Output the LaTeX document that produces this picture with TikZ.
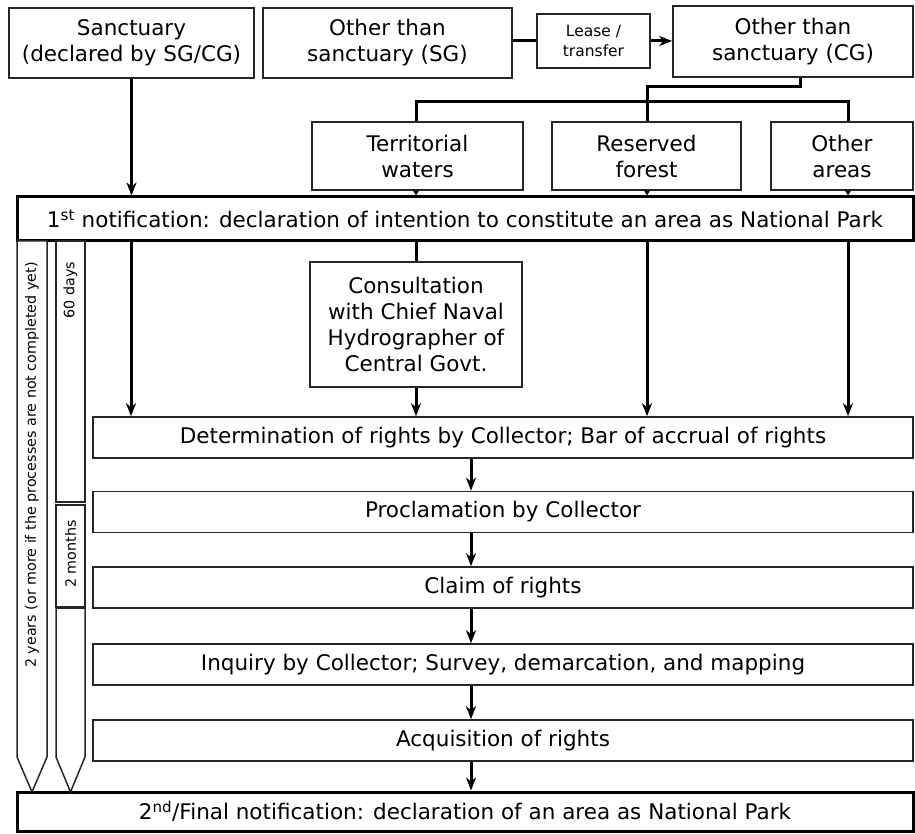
\documentclass[tikz,border=0pt]{standalone}
\usepackage{fontspec}
\setmainfont{DejaVu Sans}
\usetikzlibrary{arrows.meta}
\tikzset{
  box/.style={draw=black!85, line width=1.6pt, fill=white, align=center, inner sep=0pt,
    font=\fontsize{21.5}{26}\selectfont},
  bigbox/.style={box, draw=black, line width=3pt},
  stepbox/.style={box, minimum width=820pt, minimum height=41pt},
  conn/.style={line width=3pt, black},
  arr/.style={conn, -{Stealth[length=13pt,width=10pt,inset=4pt]}},
  tinyarr/.style={conn, -{Stealth[length=6pt,width=7pt,inset=2pt]}},
  side/.style={draw=black!85, line width=1.5pt, fill=white},
  sidetxt/.style={font=\fontsize{14.3}{17}\selectfont, rotate=90, inner sep=0pt}
}
\begin{document}
\begin{tikzpicture}[x=1pt, y=-1pt]
\useasboundingbox (0,0) rectangle (915,834);

% top row
\node[box, minimum width=245pt, minimum height=70pt] (sanc) at (131.5,43) {Sanctuary\\(declared by SG/CG)};
\node[box, minimum width=249pt, minimum height=70pt] (sg) at (387.5,43) {Other than\\sanctuary (SG)};
\node[box, minimum width=113pt, minimum height=54pt, font=\fontsize{15.5}{20}\selectfont] (lease) at (593.5,41) {Lease /\\transfer};
\node[box, minimum width=240pt, minimum height=71pt] (cg) at (793,41.5) {Other than\\sanctuary (CG)};

% categories under central government
\node[box, minimum width=211pt, minimum height=68pt] (terr) at (417.5,156) {Territorial\\waters};
\node[box, minimum width=189pt, minimum height=68pt] (resv) at (646.5,156) {Reserved\\forest};
\node[box, minimum width=142pt, minimum height=68pt] (oth) at (842,156) {Other\\areas};

% first notification
\node[bigbox, minimum width=896pt, minimum height=44pt] (first) at (465,219)
  {1\textsuperscript{st} notification: declaration of intention to constitute an area as National Park};

% consultation
\node[box, minimum width=212pt, minimum height=125pt] (consult) at (416,324.5)
  {Consultation\\with Chief Naval\\Hydrographer of\\Central Govt.};

% procedure steps
\node[stepbox] (det) at (503,437.5) {Determination of rights by Collector; Bar of accrual of rights};
\node[stepbox] (procl) at (503,512) {Proclamation by Collector};
\node[stepbox] (claim) at (503,587.5) {Claim of rights};
\node[stepbox] (inq) at (503,664.5) {Inquiry by Collector; Survey, demarcation, and mapping};
\node[stepbox] (acq) at (503,740.5) {Acquisition of rights};

% final notification
\node[bigbox, minimum width=896pt, minimum height=39pt] (final) at (465,811.5)
  {2\textsuperscript{nd}/Final notification: declaration of an area as National Park};

% time spans on the left
\draw[side] (17,241) -- (47,241) -- (47,757) -- (32,792) -- (17,757) -- cycle;
\node[sidetxt] (tyears) at (32,465) {2 years (or more if the processes are not completed yet)};
\node[side, minimum width=29pt, minimum height=261pt, inner sep=0pt] (sixty) at (70.5,371.5) {};
\node[sidetxt] (tsixty) at (70.5,290) {60 days};
\node[side, minimum width=29pt, minimum height=102pt, inner sep=0pt] (twom) at (70.5,556) {};
\node[sidetxt] (ttwom) at (70.5,554) {2 months};
\draw[side] (56,608) -- (85,608) -- (85,757) -- (70.5,792) -- (56,757) -- cycle;

% transfer between governments
\draw[conn] (sg.east |- 0,41) -- (lease.west);
\draw[arr] (lease.east) -- (cg.west |- lease.east);

% branching from central government
\coordinate (cgdrop) at (800,87);
\draw[conn] (cg.south -| cgdrop) -- (cgdrop) -| (resv.north -| 647,0);
\draw[conn] (terr.north -| 416,0) |- (848,102) -- (oth.north -| 848,0);

% categories into first notification
\draw[tinyarr] (terr.south -| 416,0) -- (first.north -| 416,0);
\draw[tinyarr] (resv.south -| 647,0) -- (first.north -| 647,0);
\draw[tinyarr] (oth.south -| 848,0) -- (first.north -| 848,0);

% sanctuary into first notification
\draw[arr] (sanc.south) -- (first.north -| sanc.south);

% first notification down to determination
\draw[arr] (first.south -| 131,0) -- (det.north -| 131,0);
\draw[conn] (first.south -| 416,0) -- (consult.north);
\draw[arr] (consult.south) -- (det.north -| consult.south);
\draw[arr] (first.south -| 647,0) -- (det.north -| 647,0);
\draw[arr] (first.south -| 848,0) -- (det.north -| 848,0);

% sequence of steps
\draw[arr] (det.south -| 471,0) -- (procl.north -| 471,0);
\draw[arr] (procl.south -| 471,0) -- (claim.north -| 471,0);
\draw[arr] (claim.south -| 471,0) -- (inq.north -| 471,0);
\draw[arr] (inq.south -| 471,0) -- (acq.north -| 471,0);
\draw[arr] (acq.south -| 471,0) -- (final.north -| 471,0);
\end{tikzpicture}
\end{document}
